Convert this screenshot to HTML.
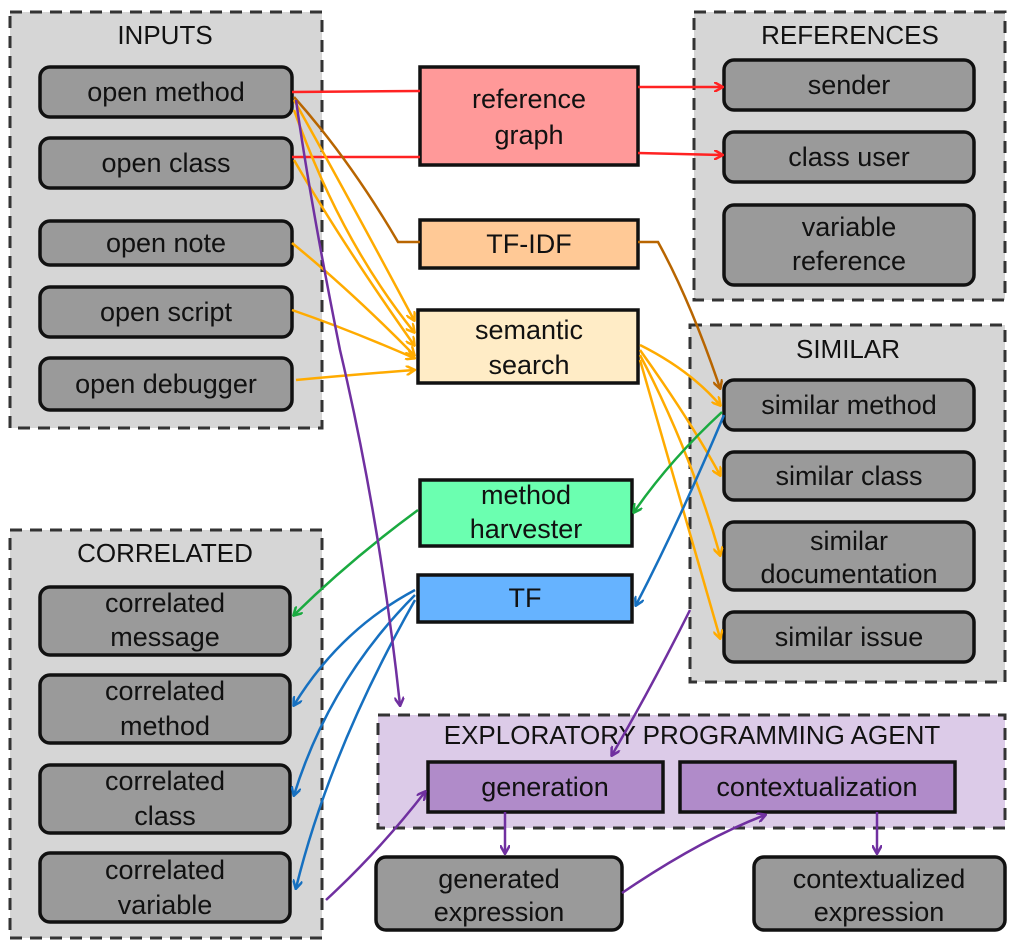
<!DOCTYPE html>
<html><head><meta charset="utf-8"><style>
body{margin:0;background:#fff}
svg text{font-family:"Liberation Sans","DejaVu Sans",sans-serif;font-size:27px;text-anchor:middle;fill:#111}
.t{font-size:26px}
</style></head><body>
<svg width="1016" height="945" viewBox="0 0 1016 945" xmlns="http://www.w3.org/2000/svg">
<defs>
<marker id="ar" markerWidth="10" markerHeight="10" refX="8" refY="5" orient="auto" markerUnits="userSpaceOnUse"><path d="M0,0 L9,5 L0,10" fill="none" stroke="context-stroke" stroke-width="2.5"/></marker>
</defs>
<g stroke="#333" stroke-width="3" stroke-dasharray="12,8" fill="#d6d6d6">
<rect x="10" y="12" width="312" height="416"/>
<rect x="694" y="12" width="311" height="288"/>
<rect x="690" y="325" width="315" height="357"/>
<rect x="10" y="530" width="312" height="408"/>
<rect x="378" y="715" width="627" height="113" fill="#dccbe8"/>
</g>
<g>
<text x="165" y="44" class="t">INPUTS</text>
<text x="850" y="44" class="t">REFERENCES</text>
<text x="848" y="358" class="t">SIMILAR</text>
<text x="165" y="562" class="t">CORRELATED</text>
<text x="692" y="744" class="t">EXPLORATORY PROGRAMMING AGENT</text>
</g>
<g stroke="#111" stroke-width="3.5" fill="#9a9a9a">
<rect x="40" y="67" width="252" height="50" rx="10"/>
<rect x="40" y="138" width="252" height="50" rx="10"/>
<rect x="40" y="221" width="252" height="44" rx="10"/>
<rect x="40" y="287" width="252" height="50" rx="10"/>
<rect x="40" y="358" width="252" height="52" rx="10"/>
<rect x="724" y="60" width="250" height="50" rx="10"/>
<rect x="724" y="132" width="250" height="50" rx="10"/>
<rect x="724" y="205" width="250" height="80" rx="10"/>
<rect x="724" y="380" width="250" height="50" rx="10"/>
<rect x="724" y="452" width="250" height="48" rx="10"/>
<rect x="724" y="522" width="250" height="68" rx="10"/>
<rect x="724" y="612" width="250" height="50" rx="10"/>
<rect x="40" y="587" width="250" height="68" rx="10"/>
<rect x="40" y="675" width="250" height="68" rx="10"/>
<rect x="40" y="765" width="250" height="68" rx="10"/>
<rect x="40" y="853" width="250" height="69" rx="10"/>
<rect x="376" y="857" width="246" height="73" rx="10"/>
<rect x="754" y="857" width="251" height="73" rx="10"/>
<rect x="420" y="67" width="218" height="98" fill="#ff9999"/>
<rect x="420" y="220" width="218" height="48" fill="#ffc996"/>
<rect x="418" y="310" width="220" height="73" fill="#ffecc6"/>
<rect x="420" y="480" width="212" height="66" fill="#6bffb0"/>
<rect x="418" y="575" width="214" height="47" fill="#66b3ff"/>
<rect x="428" y="762" width="235" height="50" fill="#b08bc9"/>
<rect x="680" y="762" width="275" height="50" fill="#b08bc9"/>
</g>
<g>
<text x="166" y="101">open method</text>
<text x="166" y="172">open class</text>
<text x="166" y="252">open note</text>
<text x="166" y="321">open script</text>
<text x="166" y="393">open debugger</text>
<text x="849" y="94">sender</text>
<text x="849" y="166">class user</text>
<text x="849" y="236">variable</text><text x="849" y="270">reference</text>
<text x="849" y="414">similar method</text>
<text x="849" y="485">similar class</text>
<text x="849" y="550">similar</text><text x="849" y="583">documentation</text>
<text x="849" y="646">similar issue</text>
<text x="165" y="612">correlated</text><text x="165" y="646">message</text>
<text x="165" y="700">correlated</text><text x="165" y="735">method</text>
<text x="165" y="790">correlated</text><text x="165" y="825">class</text>
<text x="165" y="879">correlated</text><text x="165" y="914">variable</text>
<text x="499" y="888">generated</text><text x="499" y="921">expression</text>
<text x="879" y="888">contextualized</text><text x="879" y="921">expression</text>
<text x="529" y="108">reference</text><text x="529" y="144">graph</text>
<text x="529" y="253">TF-IDF</text>
<text x="529" y="339">semantic</text><text x="529" y="374">search</text>
<text x="526" y="504">method</text><text x="526" y="538">harvester</text>
<text x="525" y="607">TF</text>
<text x="545" y="796">generation</text>
<text x="817" y="796">contextualization</text>
</g>
<g fill="none" stroke-width="2.5">
<g stroke="#f22">
<path d="M292,92 L420,91"/><path d="M292,157 L420,157"/>
<path d="M638,87 L722,87" marker-end="url(#ar)"/><path d="M638,153 L722,155" marker-end="url(#ar)"/>
</g>
<g stroke="#b86500">
<path d="M294,97 Q350,160 398,242 L420,242"/>
<path d="M638,242 L658,242 Q690,300 720,388" marker-end="url(#ar)"/>
</g>
<g stroke="#ffab00">
<path d="M294,100 Q350,200 414,320" marker-end="url(#ar)"/>
<path d="M294,110 Q340,240 414,332" marker-end="url(#ar)"/>
<path d="M294,160 Q340,240 414,345" marker-end="url(#ar)"/>
<path d="M292,243 Q350,290 414,355" marker-end="url(#ar)"/>
<path d="M292,310 Q350,330 414,358" marker-end="url(#ar)"/>
<path d="M296,380 Q350,375 414,370" marker-end="url(#ar)"/>
<path d="M640,345 Q690,370 720,405" marker-end="url(#ar)"/>
<path d="M640,350 Q690,420 720,475" marker-end="url(#ar)"/>
<path d="M640,355 Q690,450 720,555" marker-end="url(#ar)"/>
<path d="M640,360 Q680,500 720,638" marker-end="url(#ar)"/>
</g>
<g stroke="#1aaa40">
<path d="M722,412 Q670,460 634,512" marker-end="url(#ar)"/>
<path d="M418,510 Q350,560 294,615" marker-end="url(#ar)"/>
</g>
<g stroke="#1670c0">
<path d="M724,415 Q680,520 636,605" marker-end="url(#ar)"/>
<path d="M415,590 Q340,630 294,705" marker-end="url(#ar)"/>
<path d="M415,595 Q330,680 294,795" marker-end="url(#ar)"/>
<path d="M415,600 Q330,750 296,888" marker-end="url(#ar)"/>
</g>
<g stroke="#7030a0">
<path d="M296,100 Q310,200 340,350 Q380,520 400,705" marker-end="url(#ar)"/>
<path d="M690,610 Q650,690 612,755" marker-end="url(#ar)"/>
<path d="M326,900 Q380,850 425,792" marker-end="url(#ar)"/>
<path d="M505,812 L505,853" marker-end="url(#ar)"/>
<path d="M622,893 Q700,840 765,815" marker-end="url(#ar)"/>
<path d="M877,812 L877,853" marker-end="url(#ar)"/>
</g>
</g>
</svg>
</body></html>
